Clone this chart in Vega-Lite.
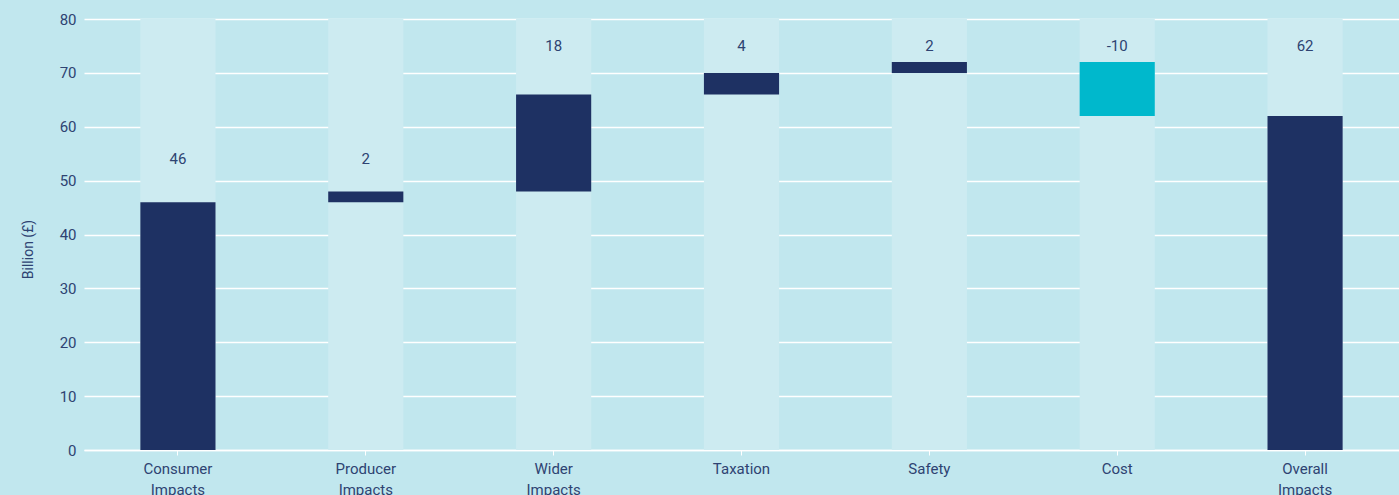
{
  "$schema": "https://vega.github.io/schema/vega-lite/v6.json",
  "width": 1315,
  "height": 431,
  "autosize": {"type": "none"},
  "padding": {"left": 84, "top": 19, "right": 0, "bottom": 45},
  "background": "#c1e7ee",
  "config": {
    "view": {"stroke": null, "fill": "#c1e7ee"},
    "font": "Roboto",
    "axis": {"labelColor": "#2e4372", "titleColor": "#2e4372", "labelFont": "Roboto", "titleFont": "Roboto"}
  },
  "data": {
    "values": [
      {"category": "Consumer Impacts", "start": 0, "end": 46, "label": "46", "labelAt": 54, "kind": "gain"},
      {"category": "Producer Impacts", "start": 46, "end": 48, "label": "2", "labelAt": 54, "kind": "gain"},
      {"category": "Wider Impacts", "start": 48, "end": 66, "label": "18", "labelAt": 75, "kind": "gain"},
      {"category": "Taxation", "start": 66, "end": 70, "label": "4", "labelAt": 75, "kind": "gain"},
      {"category": "Safety", "start": 70, "end": 72, "label": "2", "labelAt": 75, "kind": "gain"},
      {"category": "Cost", "start": 72, "end": 62, "label": "-10", "labelAt": 75, "kind": "loss"},
      {"category": "Overall Impacts", "start": 0, "end": 62, "label": "62", "labelAt": 75, "kind": "gain"}
    ]
  },
  "encoding": {
    "x": {
      "field": "category",
      "type": "nominal",
      "sort": null,
      "scale": {"paddingInner": 0.6, "paddingOuter": 0.3},
      "axis": {
        "title": null,
        "labelAngle": 0,
        "labelFontSize": 15,
        "labelPadding": 6,
        "labelLineHeight": 21,
        "labelExpr": "split(datum.label, ' ')",
        "tickColor": "white",
        "tickSize": 5,
        "domainColor": "white",
        "domainWidth": 1.5,
        "labelBaseline": "top"
      }
    }
  },
  "layer": [
    {
      "mark": {"type": "bar", "color": "#cdebf1"},
      "encoding": {
        "y": {
          "datum": 0,
          "type": "quantitative",
          "scale": {"domain": [0, 80], "nice": false},
          "axis": {
            "title": "Billion (£)",
            "titleFontSize": 14,
            "titleFontWeight": "normal",
            "titlePadding": 24,
            "titleY": 230,
            "labelFontSize": 15,
            "labelPadding": 8,
            "tickCount": 8,
            "grid": true,
            "gridColor": "white",
            "gridWidth": 1.5,
            "domain": false,
            "ticks": false
          }
        },
        "y2": {"datum": 80}
      }
    },
    {
      "mark": {"type": "bar"},
      "encoding": {
        "y": {"field": "start", "type": "quantitative"},
        "y2": {"field": "end"},
        "color": {
          "field": "kind",
          "type": "nominal",
          "scale": {"domain": ["gain", "loss"], "range": ["#1e3163", "#00b8cc"]},
          "legend": null
        }
      }
    },
    {
      "mark": {"type": "text", "fontSize": 15, "color": "#2e4372", "baseline": "middle"},
      "encoding": {
        "y": {"field": "labelAt", "type": "quantitative"},
        "text": {"field": "label"}
      }
    }
  ]
}
